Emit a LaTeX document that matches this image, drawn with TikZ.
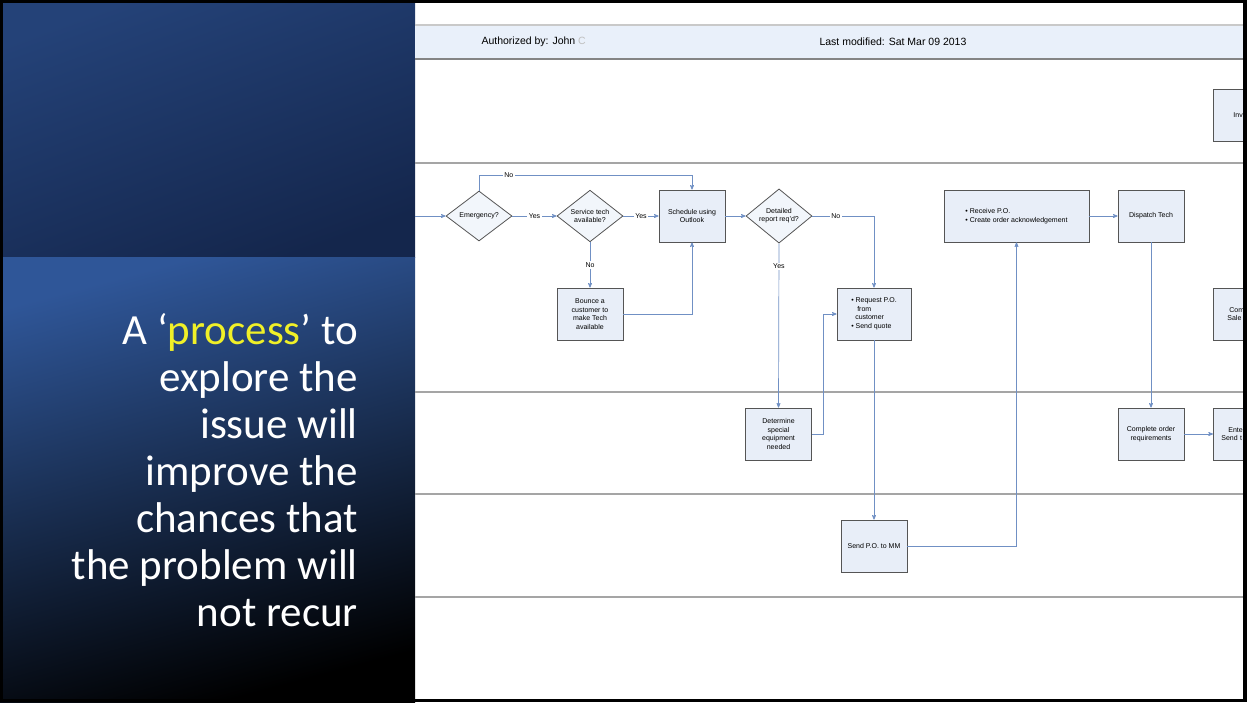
\documentclass[tikz,border=0pt]{standalone}
\usepackage{fontspec}
\setmainfont{Liberation Sans}
\newfontfamily\slidefont{Carlito}
\usetikzlibrary{arrows,positioning,shapes.geometric}
\definecolor{flowline}{RGB}{112,144,196}
\definecolor{boxfill}{RGB}{232,238,248}
\definecolor{boxedge}{RGB}{85,85,85}
\definecolor{headfill}{RGB}{233,240,250}
\definecolor{laneline}{RGB}{165,165,165}
\definecolor{slideblue}{RGB}{47,86,152}
\definecolor{slidedark}{RGB}{20,38,76}
\definecolor{slidemid}{RGB}{36,66,120}
\definecolor{hilite}{RGB}{240,240,40}
\tikzset{
  task/.style     = {shape=rectangle, draw=boxedge, fill=boxfill,
                     line width=0.8pt, minimum width=66pt, minimum height=52pt,
                     inner sep=2pt, align=center,
                     font=\fontsize{7}{8.5}\selectfont},
  cut/.style      = {task, anchor=west, text width=50pt, align=left,
                     inner xsep=15pt},
  decision/.style = {shape=diamond, draw=boxedge, fill=boxfill!55,
                     line width=0.8pt, minimum width=66pt, minimum height=50pt,
                     inner sep=0pt, align=center,
                     font=\fontsize{7}{8}\selectfont},
  lbl/.style      = {fill=white, inner sep=1.5pt, font=\fontsize{7}{8}\selectfont},
  flow/.style     = {->, draw=flowline, line width=0.7pt},
  lane/.style     = {draw=laneline, line width=1.4pt}
}

\begin{document}
\begin{tikzpicture}[x=1pt, y=-1pt, >=stealth']
\useasboundingbox (0,0) rectangle (1247,702);
% slide panel
\shade[top color=slidemid, bottom color=slidedark, shading angle=20]
  (0,0) rectangle (415,257);
\shade[top color=slideblue, bottom color=black, shading angle=15]
  (0,257) rectangle (415,702);
\node [anchor=east, align=right, inner sep=0pt, text=white,
       font=\slidefont\fontsize{43}{47}\selectfont] (slogan) at (358,470)
  {A ‘\textcolor{hilite}{process}’ to\\explore the\\issue will\\improve the\\
   chances that\\the problem will\\not recur};

% flowchart page
\begin{scope}
\clip (415,0) rectangle (1243,702);
\fill[headfill] (415,25) rectangle (1243,59);
\draw[lane, draw=laneline!60] (415,25) -- (1243,25);
\draw[lane, draw=laneline!80!black] (415,59) -- (1243,59);
\node [anchor=west, font=\fontsize{10.5}{12}\selectfont] (auth) at (478,42)
  {Authorized by: John \textcolor{black!25}{C}};
\node [anchor=west, font=\fontsize{10.5}{12}\selectfont] (mod) at (816,42)
  {Last modified: Sat Mar 09 2013};
\foreach \y in {163,392,494,597}
  \draw[lane] (415,\y) -- (1243,\y);

% lane 2
\node [decision] (emg) at (479,216) {Emergency?};
\node [decision] (svc) at (590,216) {Service tech\\available?};
\node [task] (sched) at (692,216) {Schedule using\\Outlook};
\node [decision] (det) at (779,216) {Detailed\\report req'd?};
\node [task] (bounce) at (590,314) {Bounce a\\customer to\\make Tech\\available};
\node [task, minimum width=74pt, align=left] (req) at (874,314)
  {\textbullet\ Request P.O.\\\hspace{6pt}from\\\hspace{4pt}customer\\\textbullet\ Send quote};
\node [task, minimum width=145pt, align=left] (recv) at (1016.5,216)
  {\textbullet\ Receive P.O.\\\textbullet\ Create order acknowledgement};
\node [task] (disp) at (1151,216) {Dispatch Tech};
\node [cut, inner xsep=14pt] (com) at (1213,314) {\hspace{2pt}Com\\Sale};
% lane 1
\node [cut, inner xsep=20pt] (inv) at (1213,115.5) {Inv};
% lane 3
\node [task] (equip) at (778.5,434) {Determine\\special\\equipment\\needed};
\node [task] (compl) at (1151,434) {Complete order\\requirements};
\node [cut, inner xsep=7pt] (enter) at (1213,434) {\hspace{7pt}Ente\\Send t};
% lane 4
\node [task] (send) at (874,546) {Send P.O. to MM};

\coordinate (start) at (415,216);
\draw[flow] (start) -- (emg);
\draw[flow] (emg) -- node[lbl] {Yes} (svc);
\draw[flow] (svc) -- node[lbl] {Yes} (sched);
\draw[flow] (emg.north) -- ++(0,-15) -| node[lbl, pos=0.07] {No} (sched.north);
\draw[flow] (svc.south) -- node[lbl] {No} (bounce.north);
\draw[flow] (bounce.east) -| (sched.south);
\draw[flow] (sched) -- (det);
\draw[flow] (det.east) -| node[lbl, pos=0.19] {No} (req.north);
\draw[flow] (det.south) -- node[lbl, pos=0.14] {Yes} (equip.north);
\draw[flow] (equip.east) -- ++(11,0) |- (req.west);
\draw[flow] (req.south) -- (send.north);
\draw[flow] (send.east) -| (recv.south);
\draw[flow] (recv) -- (disp);
\draw[flow] (disp) -- (compl);
\draw[flow] (compl) -- (enter);
\end{scope}

% frame
\draw[line width=3pt] (1.5,1.5) rectangle (1245.5,700.5);
\fill (1243,0) rectangle (1247,702);
\end{tikzpicture}
\end{document}
